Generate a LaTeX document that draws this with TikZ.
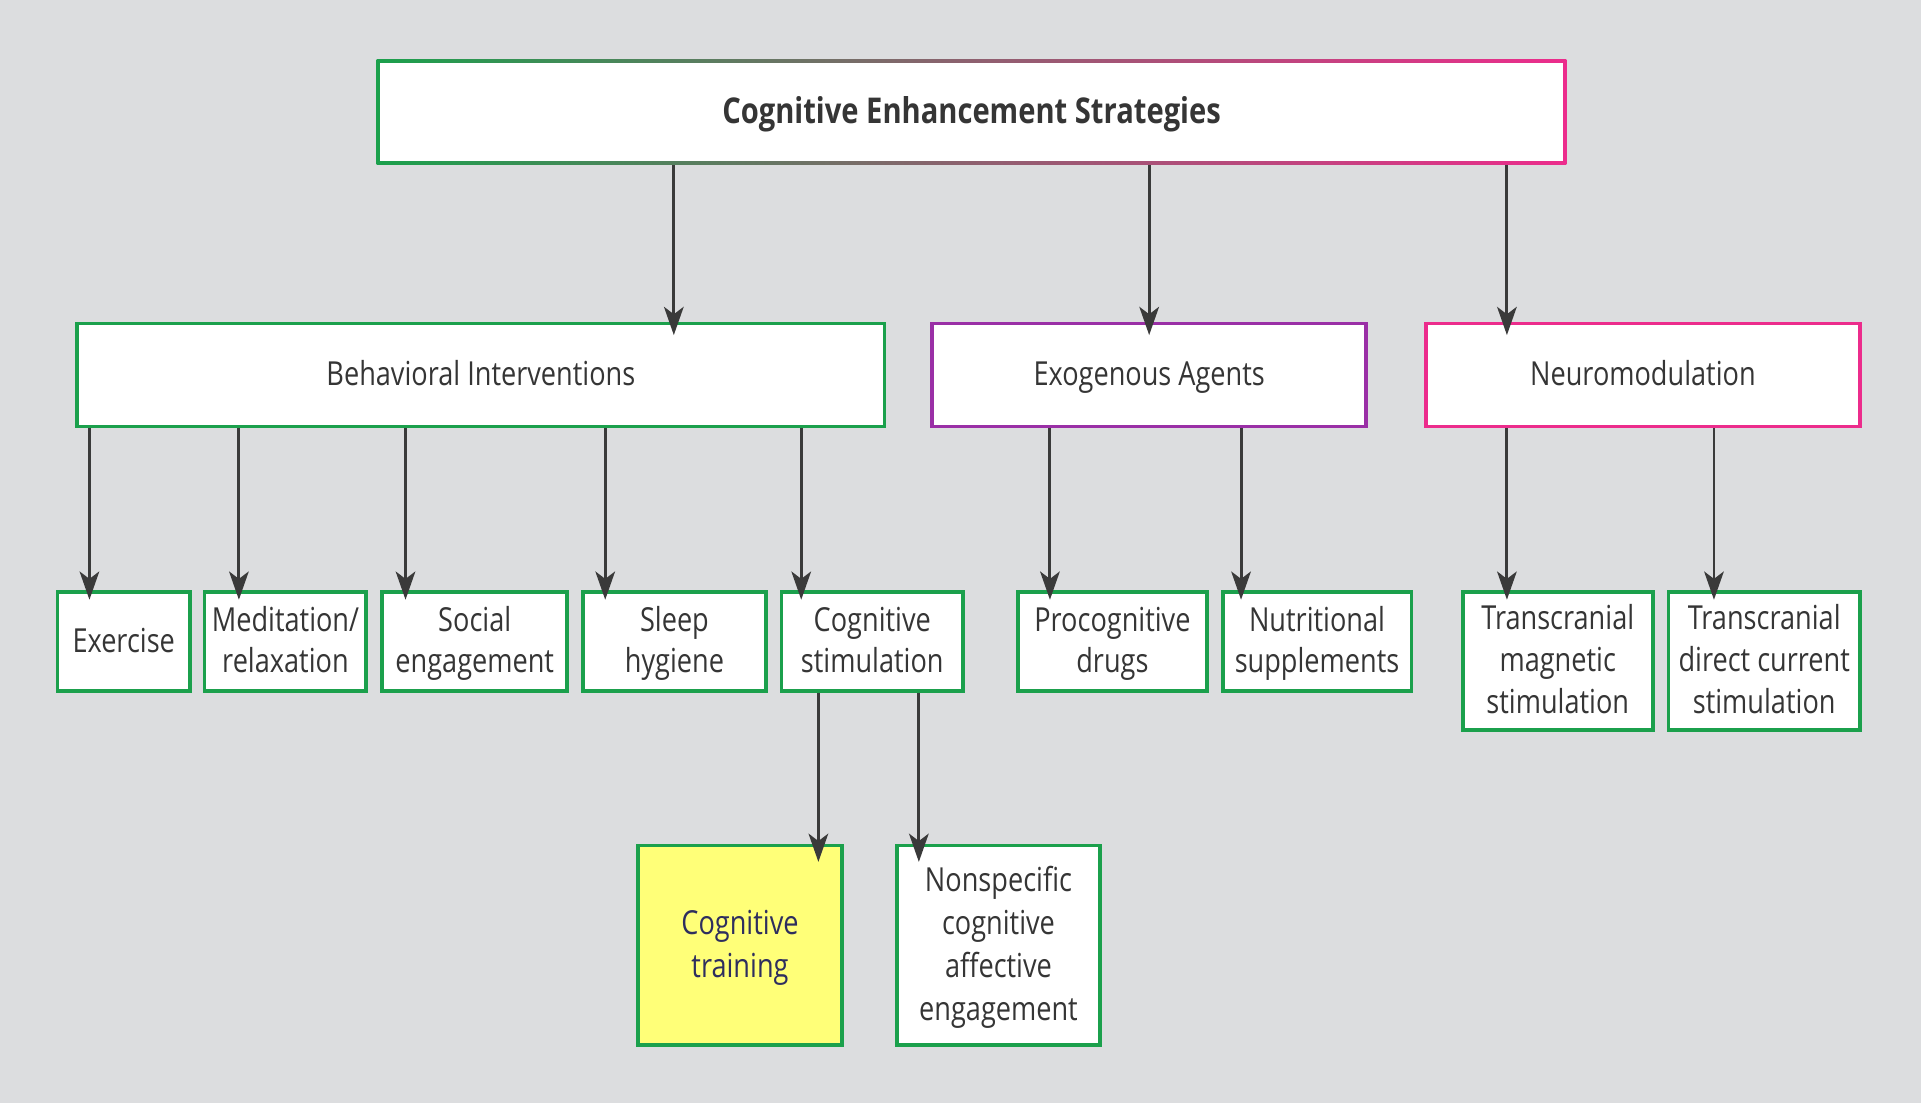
\documentclass[tikz,border=0pt]{standalone}
\usepackage{fontspec}
\setmainfont{Open Sans}[FakeStretch=0.82]
\usetikzlibrary{arrows.meta,calc}
\definecolor{bg}{HTML}{DCDDDF}
\definecolor{gr}{HTML}{1BA04C}
\definecolor{pk}{HTML}{EC2C8C}
\definecolor{pu}{HTML}{9A2FA6}
\definecolor{yl}{HTML}{FFFF78}
\definecolor{txt}{HTML}{353535}
\definecolor{ln}{HTML}{3A3A3A}
\definecolor{navy}{HTML}{2E2E5E}
\newcommand\mystrut{\rule[-8.5pt]{0pt}{35pt}}
\newcommand\ml[2][35pt]{\vbox{\baselineskip=#1\lineskiplimit=-100pt\let\\\cr
  \halign{\hfil##\hfil\cr\rule{0pt}{26pt}#2\rule[-6pt]{0pt}{6pt}\cr}}}
\begin{document}
\begin{tikzpicture}[x=1pt,y=-1pt,
  box/.style={draw=gr, line width=3pt, fill=white, inner sep=0pt, align=center,
    font=\fontsize{27}{35}\selectfont, text=txt,
    execute at begin node=\mystrut, execute at end node=\mystrut},
  arr/.style={draw=ln, line width=2.4pt, -{Stealth[length=23pt,width=16pt,inset=6pt]}}]
\fill[bg] (0,0) rectangle (1568,900);
\useasboundingbox (0,0) rectangle (1568,900);
% top
\node[inner sep=0pt, left color=gr, right color=pk, middle color=pk!55!gr, minimum width=971pt, minimum height=86pt,
  font=\fontsize{29}{35}\selectfont\bfseries, text=txt,
  execute at begin node=\mystrut, execute at end node=\mystrut,
  path picture={\fill[white] ($(path picture bounding box.north west)+(3,3)$) rectangle ($(path picture bounding box.south east)+(-3,-3)$);}]
  (top) at (793,91.5) {Cognitive Enhancement Strategies};
% second level
\node[box, minimum width=659pt, minimum height=84pt] (beh) at (392.5,306) {Behavioral Interventions};
\node[box, draw=pu, minimum width=354pt, minimum height=84pt] (exo) at (938,306) {Exogenous Agents};
\node[box, draw=pk, minimum width=354pt, minimum height=84pt] (neu) at (1341,306) {Neuromodulation};
% third level
\node[box, minimum width=108pt, minimum height=81pt] (ex) at (101,523.5) {Exercise};
\node[box, minimum width=132pt, minimum height=81pt] (med) at (233,523.5) {\ml[33.5pt]{Meditation/\\relaxation}};
\node[box, minimum width=151pt, minimum height=81pt] (soc) at (387.5,523.5) {\ml[33.5pt]{Social\\engagement}};
\node[box, minimum width=149pt, minimum height=81pt] (slp) at (550.5,523.5) {\ml[33.5pt]{Sleep\\hygiene}};
\node[box, minimum width=148pt, minimum height=81pt] (cst) at (712,523.5) {\ml[33.5pt]{Cognitive\\stimulation}};
\node[box, minimum width=154pt, minimum height=81pt] (pro) at (908,523.5) {\ml[33.5pt]{Procognitive\\drugs}};
\node[box, minimum width=154pt, minimum height=81pt] (nut) at (1075,523.5) {\ml[33.5pt]{Nutritional\\supplements}};
\node[box, minimum width=155pt, minimum height=113pt] (tms) at (1271.5,539.5) {\ml[34.5pt]{Transcranial\\magnetic\\stimulation}};
\node[box, minimum width=156pt, minimum height=113pt] (tdc) at (1440,539.5) {\ml[34.5pt]{Transcranial\\direct current\\stimulation}};
% fourth level
\node[box, fill=yl, text=navy, minimum width=166pt, minimum height=163pt] (ctr) at (604,771.5) {\ml{Cognitive\\training}};
\node[box, minimum width=166pt, minimum height=163pt] (nsp) at (815,771.5) {\ml[35.3pt]{Nonspecific\\cognitive\\affective\\engagement}};
% arrows
\draw[arr] ($(beh.north |- top.south)+(157.5,0)$) -- ($(beh.north)+(157.5,11)$);
\draw[arr] (exo.north |- top.south) -- ($(exo.north)+(0,11)$);
\draw[arr] ($(neu.north |- top.south)+(-111,0)$) -- ($(neu.north)+(-111,11)$);
\draw[arr] ($(ex.north |- beh.south)+(-28,0)$) -- ($(ex.north)+(-28,8)$);
\draw[arr] ($(med.north |- beh.south)+(-38,0)$) -- ($(med.north)+(-38,8)$);
\draw[arr] ($(soc.north |- beh.south)+(-56.5,0)$) -- ($(soc.north)+(-56.5,8)$);
\draw[arr] ($(slp.north |- beh.south)+(-56.5,0)$) -- ($(slp.north)+(-56.5,8)$);
\draw[arr] ($(cst.north |- beh.south)+(-58,0)$) -- ($(cst.north)+(-58,8)$);
\draw[arr] ($(pro.north |- exo.south)+(-51,0)$) -- ($(pro.north)+(-51,8)$);
\draw[arr] ($(nut.north |- exo.south)+(-62,0)$) -- ($(nut.north)+(-62,8)$);
\draw[arr] ($(tms.north |- neu.south)+(-41.5,0)$) -- ($(tms.north)+(-41.5,8)$);
\draw[arr] ($(tdc.north |- neu.south)+(-41,0)$) -- ($(tdc.north)+(-41,8)$);
\draw[arr] ($(ctr.north |- cst.south)+(64,0)$) -- ($(ctr.north)+(64,15)$);
\draw[arr] ($(nsp.north |- cst.south)+(-65,0)$) -- ($(nsp.north)+(-65,15)$);
\end{tikzpicture}
\end{document}
